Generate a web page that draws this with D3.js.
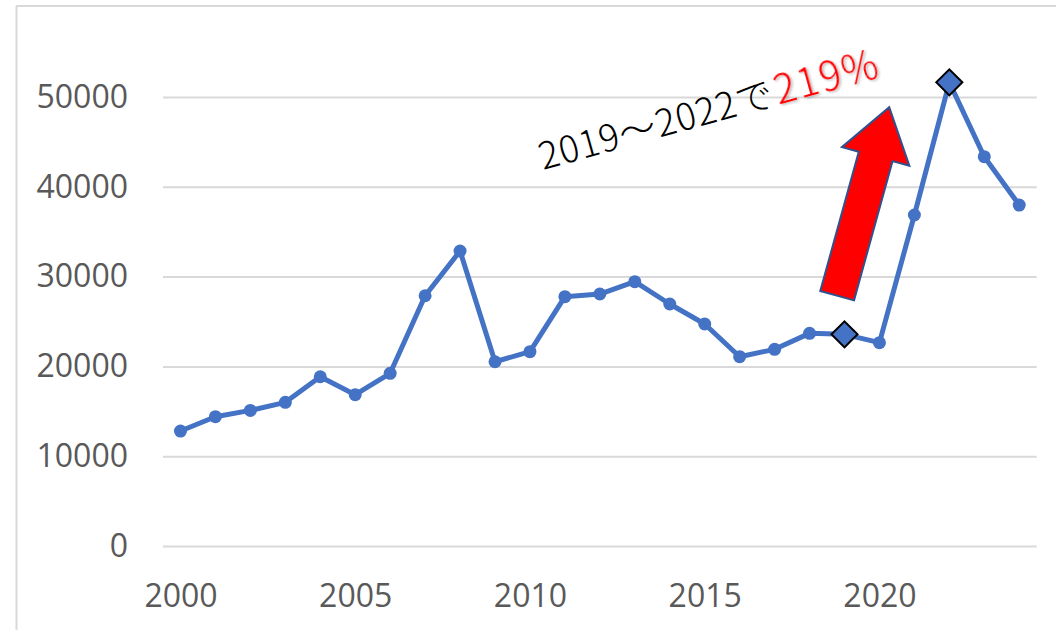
<!DOCTYPE html>
<html>
<head>
<meta charset="utf-8">
<script src="https://cdn.jsdelivr.net/npm/d3@7"></script>
<style>
  html, body { margin: 0; padding: 0; background: #fff; }
  svg { display: block; }
</style>
</head>
<body>
<svg id="chart" width="1056" height="630"></svg>
<script>
// ---- data ----
const years = [2000, 2001, 2002, 2003, 2004, 2005, 2006, 2007, 2008, 2009, 2010, 2011, 2012,
               2013, 2014, 2015, 2016, 2017, 2018, 2019, 2020, 2021, 2022, 2023, 2024];
const values = [12800, 14400, 15100, 16000, 18850, 16850, 19230, 27870, 32850, 20520, 21640, 27760, 28060,
                29430, 26950, 24720, 21080, 21900, 23680, 23570, 22640, 36860, 51630, 43350, 37970];
const highlightYears = [2019, 2022];
const yTicks = [0, 10000, 20000, 30000, 40000, 50000];
const xTicks = [2000, 2005, 2010, 2015, 2020];
const annotationLabel = "2019～2022で";
const annotationValue = "219%";
// annotation anchors in data units
const labelAnchor = { year: 2010.37, value: 41870 };
const arrowTail = { year: 2018.79, value: 27870 };
const arrowTip = { year: 2020.28, value: 48850 };

// ---- layout ----
const svg = d3.select("#chart");
const W = 1056, H = 630;
const plot = { left: 163, right: 1036.7, top: 97, bottom: 546 };

const x = d3.scaleLinear().domain([1999.5, 2024.5]).range([plot.left, plot.right]);
const y = d3.scaleLinear().domain([0, 50000]).range([plot.bottom, plot.top]);

const data = years.map((yr, i) => ({ year: yr, value: values[i] }));

// frame
svg.append("line").attr("x1", 16.5).attr("x2", 16.5).attr("y1", 6).attr("y2", H)
  .attr("stroke", "#D9D9D9").attr("stroke-width", 2);
svg.append("line").attr("x1", 16).attr("x2", W).attr("y1", 6).attr("y2", 6)
  .attr("stroke", "#D9D9D9").attr("stroke-width", 2);

// y axis with gridlines
const yAxis = svg.append("g")
  .attr("transform", `translate(${plot.left},0)`)
  .call(d3.axisLeft(y).tickValues(yTicks).tickFormat(d3.format("d"))
    .tickSize(-(plot.right - plot.left)).tickPadding(35));
yAxis.select(".domain").remove();
yAxis.selectAll(".tick line").attr("stroke", "#D9D9D9").attr("stroke-width", 2);
yAxis.selectAll(".tick text")
  .attr("fill", "#595959")
  .style("font-family", "'Open Sans', 'Noto Sans', sans-serif")
  .style("font-size", "32px");

// x axis
const xAxis = svg.append("g")
  .attr("transform", `translate(0,${plot.bottom})`)
  .call(d3.axisBottom(x).tickValues(xTicks).tickFormat(d3.format("d"))
    .tickSize(0).tickPadding(38));
xAxis.select(".domain").remove();
xAxis.selectAll(".tick text")
  .attr("fill", "#595959")
  .style("font-family", "'Open Sans', 'Noto Sans', sans-serif")
  .style("font-size", "32px");

// line
const lineGen = d3.line().x(d => x(d.year)).y(d => y(d.value));
svg.append("path").datum(data)
  .attr("d", lineGen)
  .attr("fill", "none")
  .attr("stroke", "#4472C4")
  .attr("stroke-width", 5)
  .attr("stroke-linejoin", "round");

// circle markers
svg.append("g").selectAll("circle")
  .data(data.filter(d => !highlightYears.includes(d.year)))
  .join("circle")
  .attr("cx", d => x(d.year))
  .attr("cy", d => y(d.value))
  .attr("r", 6.5)
  .attr("fill", "#4472C4");

// diamond markers
svg.append("g").selectAll("path")
  .data(data.filter(d => highlightYears.includes(d.year)))
  .join("path")
  .attr("d", d3.symbol(d3.symbolSquare, 340))
  .attr("transform", d => `translate(${x(d.year)},${y(d.value)}) rotate(45)`)
  .attr("fill", "#4472C4")
  .attr("stroke", "#000")
  .attr("stroke-width", 2);

// arrow
(function () {
  const tx = x(arrowTail.year), ty = y(arrowTail.value);
  const px = x(arrowTip.year), py = y(arrowTip.value);
  const dx = px - tx, dy = py - ty;
  const L = Math.hypot(dx, dy);
  const ux = dx / L, uy = dy / L;
  const nx = -uy, ny = ux;
  const shaftHalf = 17.5, headHalf = 35, headLen = 51;
  const bx = px - ux * headLen, by = py - uy * headLen;
  const pts = [
    [tx + nx * shaftHalf, ty + ny * shaftHalf],
    [bx + nx * shaftHalf, by + ny * shaftHalf],
    [bx + nx * headHalf, by + ny * headHalf],
    [px, py],
    [bx - nx * headHalf, by - ny * headHalf],
    [bx - nx * shaftHalf, by - ny * shaftHalf],
    [tx - nx * shaftHalf, ty - ny * shaftHalf]
  ];
  svg.append("polygon")
    .attr("points", pts.map(p => p.join(",")).join(" "))
    .attr("fill", "#FF0000")
    .attr("stroke", "#2F528F")
    .attr("stroke-width", 2)
    .attr("stroke-linejoin", "miter");
})();

// shadow filter for red text
const defs = svg.append("defs");
const f = defs.append("filter").attr("id", "shadow").attr("x", "-20%").attr("y", "-20%")
  .attr("width", "140%").attr("height", "140%");
f.append("feDropShadow").attr("dx", 1.5).attr("dy", 1.5).attr("stdDeviation", 1)
  .attr("flood-color", "#000").attr("flood-opacity", 0.3);

// annotation text
const ax = x(labelAnchor.year), ay = y(labelAnchor.value);
const t = svg.append("text")
  .attr("transform", `translate(${ax},${ay}) rotate(-15.5)`)
  .style("font-family", "'Noto Sans CJK JP', 'Noto Sans', sans-serif")
  .style("font-weight", 300);
t.append("tspan").attr("fill", "#000")
  .style("font-size", "37px").style("letter-spacing", "1px")
  .text(annotationLabel);
t.append("tspan").attr("fill", "#FF0000").attr("filter", "url(#shadow)")
  .attr("dx", 2)
  .style("font-size", "40px").style("letter-spacing", "2px")
  .text(annotationValue);
</script>
</body>
</html>
